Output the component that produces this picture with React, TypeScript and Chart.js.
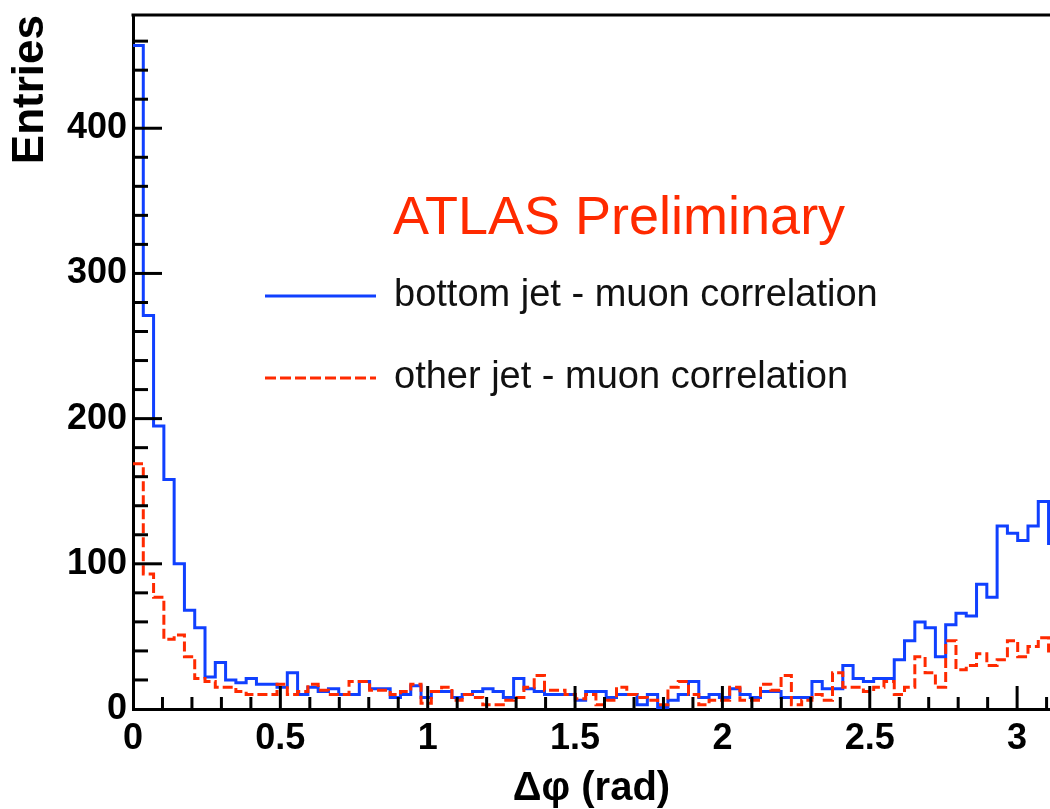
import React, { useEffect, useRef } from 'react';
import { Chart, registerables } from 'chart.js';

Chart.register(...registerables);

// ---- Data (90 bins between 0 and pi) ----
const HIST_MIN = 0;
const HIST_MAX = Math.PI;

const BOTTOM_JET_MUON = [
  457, 271, 195, 158, 100, 68, 56, 22, 32, 20,
  18, 21, 17, 17, 15, 25, 10, 15, 12, 14,
  10, 10, 19, 14, 14, 8, 10, 16, 8, 12,
  12, 8, 10, 12, 14, 12, 8, 21, 14, 12,
  10, 10, 10, 6, 12, 12, 8, 10, 10, 3,
  10, 1, 6, 10, 19, 8, 10, 8, 14, 10,
  8, 12, 12, 8, 8, 8, 19, 14, 14, 30,
  21, 19, 21, 21, 34, 47, 60, 56, 36, 58,
  66, 64, 86, 77, 126, 121, 116, 126, 143, 114,
];

const OTHER_JET_MUON = [
  169, 93, 77, 48, 51, 36, 21, 19, 15, 15,
  12, 10, 10, 10, 17, 10, 12, 17, 13, 10,
  10, 19, 19, 13, 13, 10, 12, 17, 4, 12,
  15, 6, 10, 8, 3, 3, 6, 8, 15, 23,
  13, 13, 10, 7, 10, 3, 6, 15, 10, 8,
  6, 3, 15, 19, 10, 3, 6, 6, 15, 6,
  6, 17, 13, 23, 3, 6, 10, 6, 25, 15,
  15, 12, 15, 19, 10, 15, 36, 25, 15, 47,
  27, 30, 38, 30, 34, 47, 36, 43, 49, 40,
];

const SERIES_LABELS = ['bottom jet - muon correlation', 'other jet - muon correlation'];
const TITLE_TEXT = 'ATLAS Preliminary';
const X_TITLE = 'Δφ (rad)';
const Y_TITLE = 'Entries';

// visible axis window (reference image is cropped slightly before pi)
const X_VIEW_MIN = 0;
const X_VIEW_MAX = 3.1116;
const Y_VIEW_MIN = 0;
const Y_VIEW_MAX = 478;
const X_MAJOR = 0.5;
const X_MINOR_PER_MAJOR = 5;
const Y_MAJOR = 100;
const Y_MINOR_PER_MAJOR = 5;

const BLUE = '#1040ff';
const RED = '#ff2a00';
const FONT = '"Liberation Sans", Arial, Helvetica, sans-serif';

function toStepPoints(values: number[]) {
  const w = (HIST_MAX - HIST_MIN) / values.length;
  const pts = values.map((v, i) => ({ x: HIST_MIN + i * w, y: v }));
  pts.push({ x: HIST_MAX, y: values[values.length - 1] });
  return pts;
}

const decorPlugin = {
  id: 'decor',
  afterDatasetsDraw(chart: any) {
    const { ctx, chartArea: ca, scales } = chart;
    const xs = scales.x;
    const ys = scales.y;
    ctx.save();
    ctx.strokeStyle = '#000';
    ctx.lineWidth = 3;
    ctx.lineCap = 'butt';
    ctx.setLineDash([]);
    // y ticks (inward)
    const yMinor = Y_MAJOR / Y_MINOR_PER_MAJOR;
    for (let i = 1; i * yMinor <= Y_VIEW_MAX; i++) {
      const v = i * yMinor;
      const len = i % Y_MINOR_PER_MAJOR === 0 ? 29 : 15;
      const py = ys.getPixelForValue(v);
      ctx.beginPath();
      ctx.moveTo(ca.left, py);
      ctx.lineTo(ca.left + len, py);
      ctx.stroke();
    }
    // x ticks (inward)
    const xMinor = X_MAJOR / X_MINOR_PER_MAJOR;
    for (let i = 1; i * xMinor <= X_VIEW_MAX; i++) {
      const v = i * xMinor;
      const len = i % X_MINOR_PER_MAJOR === 0 ? 23 : 12;
      const px = xs.getPixelForValue(v);
      ctx.beginPath();
      ctx.moveTo(px, ca.bottom);
      ctx.lineTo(px, ca.bottom - len);
      ctx.stroke();
    }
    // top frame line
    ctx.beginPath();
    ctx.moveTo(ca.left - 1.5, ca.top);
    ctx.lineTo(ca.right, ca.top);
    ctx.stroke();

    // ATLAS label
    ctx.fillStyle = RED;
    ctx.font = `54px ${FONT}`;
    ctx.textBaseline = 'alphabetic';
    ctx.textAlign = 'left';
    ctx.fillText(TITLE_TEXT, 393, 234);

    // legend
    ctx.lineWidth = 3;
    ctx.strokeStyle = BLUE;
    ctx.beginPath();
    ctx.moveTo(265, 296);
    ctx.lineTo(376, 296);
    ctx.stroke();
    ctx.strokeStyle = RED;
    ctx.setLineDash([11, 4]);
    ctx.beginPath();
    ctx.moveTo(265, 378);
    ctx.lineTo(376, 378);
    ctx.stroke();
    ctx.setLineDash([]);
    ctx.fillStyle = '#111';
    ctx.font = `38px ${FONT}`;
    ctx.fillText(SERIES_LABELS[0], 394, 306);
    ctx.fillText(SERIES_LABELS[1], 394, 388);
    ctx.restore();
  },
};

export default function App() {
  const ref = useRef<HTMLCanvasElement>(null);
  useEffect(() => {
    const canvas = ref.current;
    if (!canvas) return;
    const chart = new Chart(canvas, {
      type: 'line',
      data: {
        datasets: [
          {
            label: SERIES_LABELS[1],
            data: toStepPoints(OTHER_JET_MUON),
            borderColor: RED,
            borderWidth: 3,
            borderDash: [10, 4],
            stepped: true,
            pointRadius: 0,
            fill: false,
            order: 0,
          },
          {
            label: SERIES_LABELS[0],
            data: toStepPoints(BOTTOM_JET_MUON),
            borderColor: BLUE,
            borderWidth: 3,
            stepped: true,
            pointRadius: 0,
            fill: false,
            order: 1,
          },
        ],
      },
      options: {
        animation: false,
        responsive: false,
        devicePixelRatio: 1,
        layout: { padding: { top: 15, left: 0, right: 0, bottom: 0 } },
        plugins: {
          legend: { display: false },
          tooltip: { enabled: false },
        },
        scales: {
          x: {
            type: 'linear',
            min: X_VIEW_MIN,
            max: X_VIEW_MAX,
            border: { display: true, color: '#000', width: 3 },
            grid: { display: true, drawOnChartArea: false, drawTicks: false },
            ticks: {
              stepSize: X_MAJOR,
              includeBounds: false,
              padding: 8,
              color: '#000',
              maxRotation: 0,
              autoSkip: false,
              font: { family: FONT, size: 36, weight: 'bold' },
              callback: (v: any) => String(Math.round(Number(v) * 10) / 10),
            },
            title: {
              display: true,
              text: X_TITLE,
              color: '#000',
              font: { family: FONT, size: 40, weight: 'bold', lineHeight: 1 },
              padding: { top: 0, bottom: 0 },
            },
            afterFit: (s: any) => {
              s.height = 100;
              s.paddingLeft = 0;
              s.paddingRight = 0;
            },
          },
          y: {
            type: 'linear',
            min: Y_VIEW_MIN,
            max: Y_VIEW_MAX,
            border: { display: true, color: '#000', width: 3 },
            grid: { display: true, drawOnChartArea: false, drawTicks: false },
            ticks: {
              stepSize: Y_MAJOR,
              includeBounds: false,
              padding: 6,
              color: '#000',
              font: { family: FONT, size: 36, weight: 'bold' },
              callback: (v: any) => String(v),
            },
            title: {
              display: true,
              text: Y_TITLE,
              align: 'end',
              color: '#000',
              font: { family: FONT, size: 44, weight: 'bold', lineHeight: 1 },
              padding: { top: 9, bottom: 0 },
            },
            afterFit: (s: any) => {
              s.width = 133;
              s.paddingTop = 0;
              s.paddingBottom = 0;
            },
          },
        },
      },
      plugins: [decorPlugin],
    } as any);
    return () => chart.destroy();
  }, []);
  return (
    <div style={{ position: 'fixed', left: 0, top: 0, width: 1050, height: 809, background: '#fff', overflow: 'hidden' }}>
      <canvas ref={ref} width={1050} height={809} style={{ display: 'block', width: 1050, height: 809 }} />
    </div>
  );
}
